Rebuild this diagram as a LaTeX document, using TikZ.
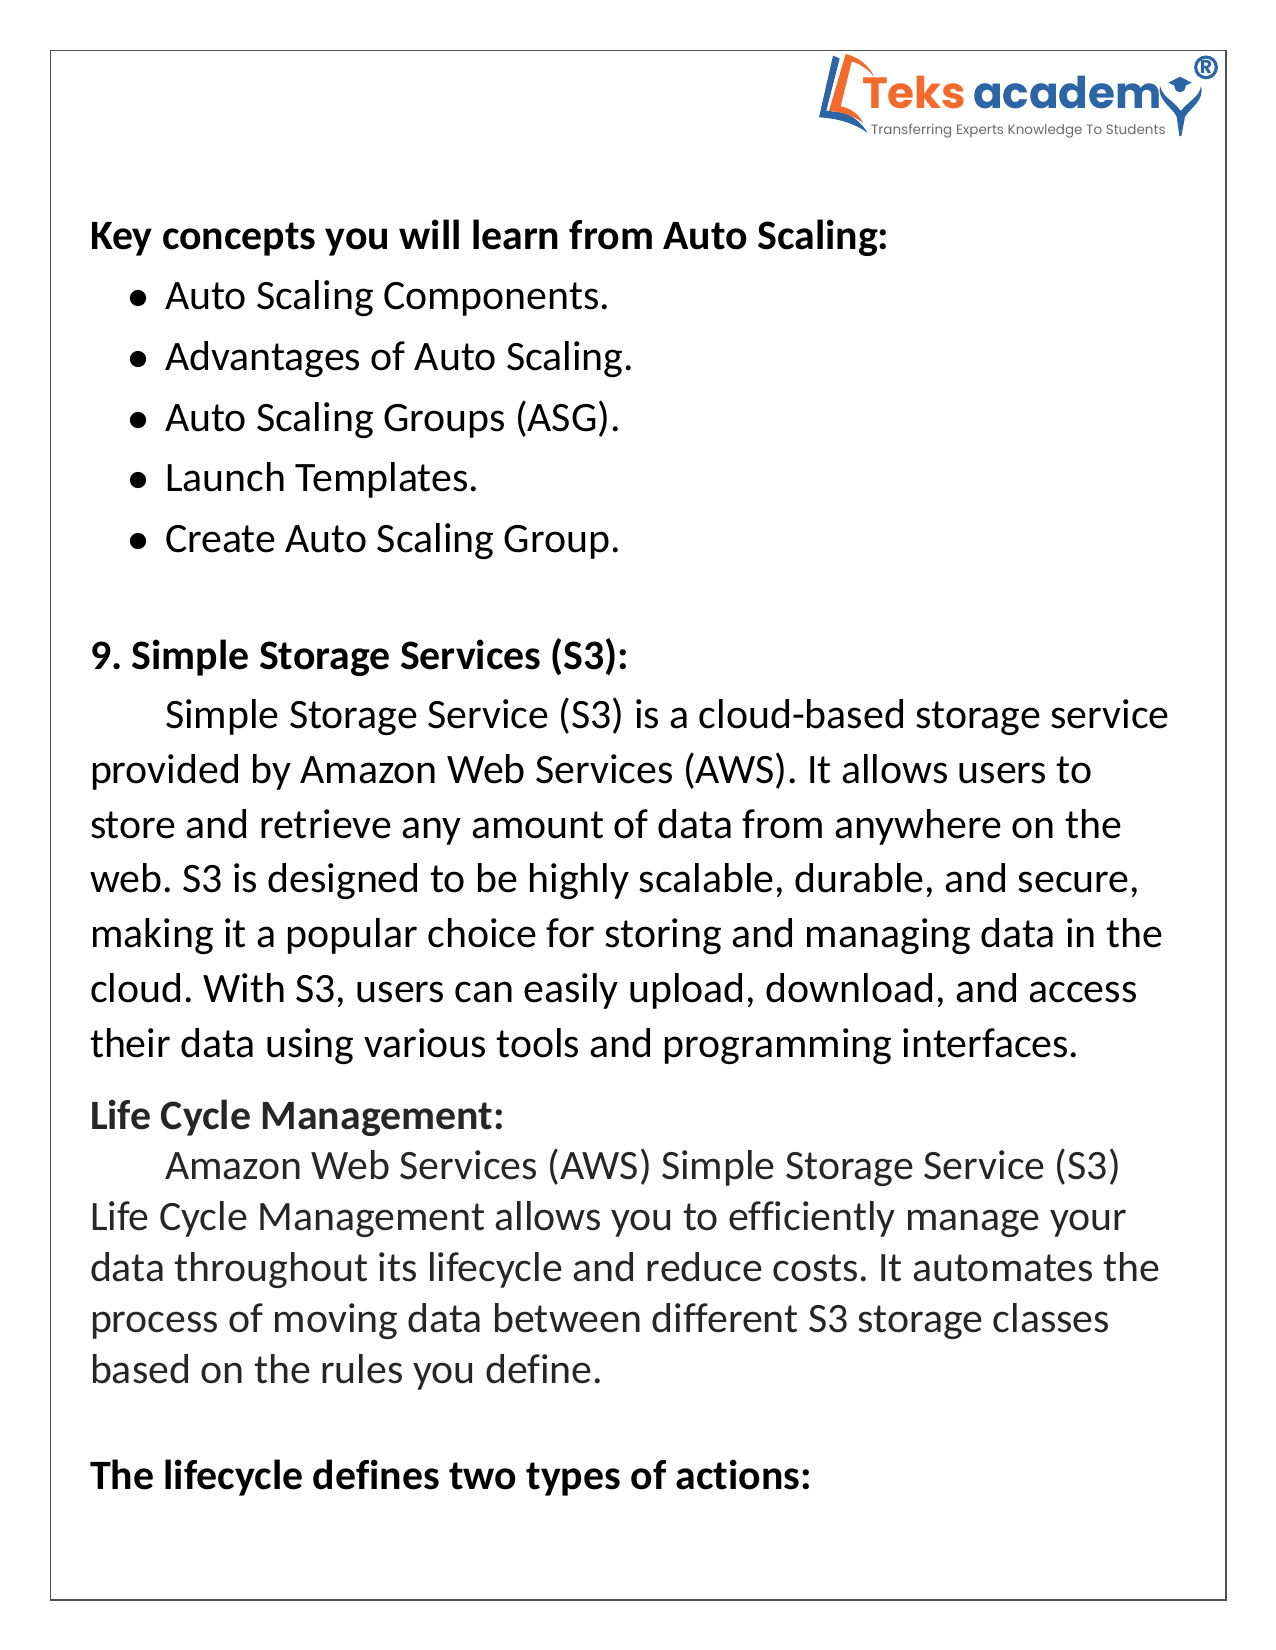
\documentclass[tikz,border=0pt]{standalone}
\usepackage{fontspec}
\setmainfont[Ligatures=NoCommon]{Carlito}
\newfontfamily\logofont{Poppins}
\definecolor{bodygrey}{HTML}{262626}
\definecolor{logoblue}{HTML}{2B65A5}
\definecolor{logoorange}{HTML}{F26B2D}
\definecolor{taggrey}{HTML}{6A6A6A}
\definecolor{frameline}{HTML}{505050}
\tikzset{
  txt/.style={anchor=base west,inner sep=0pt,outer sep=0pt,font=\fontsize{20.08bp}{24bp}\selectfont},
  head/.style={txt,font=\fontsize{20.08bp}{24bp}\selectfont\bfseries},
  greytxt/.style={txt,text=bodygrey},
  bul/.style={circle,fill=black,inner sep=0pt,minimum size=7.8bp},
  logotxt/.style={anchor=base west,inner sep=0pt,outer sep=0pt}
}
\begin{document}
\frenchspacing
\begin{tikzpicture}[x=0.48bp,y=-0.48bp]
\useasboundingbox (0,0) rectangle (1275,1650);
\draw[frameline,line width=0.7pt] (50.5,50.5) rectangle (1226,1600);
% book mark of the logo
\begin{scope}[shift={(809,49)},x=0.16bp,y=-0.16bp]
\fill[logoblue] (72,20) -- (92,28) -- (52,185) -- (95,190) .. controls (130,195) and (160,225) .. (176,252) .. controls (140,225) and (90,208) .. (30,205) -- cycle;
\fill[logoorange] (110,15) .. controls (150,25) and (180,50) .. (195,82) .. controls (175,60) and (150,42) .. (128,38) -- (95,172) .. controls (120,175) and (150,195) .. (162,222) .. controls (135,200) and (100,190) .. (60,185) -- cycle;
\end{scope}
% figure and ring of the logo
\begin{scope}[shift={(1140,50)},x=0.16bp,y=-0.16bp]
\fill[logoblue] (60,108) .. controls (50,150) and (100,175) .. (110,200) -- (118,258) -- (124,258) -- (135,200) .. controls (150,175) and (195,150) .. (183,108) .. controls (178,140) and (150,150) .. (122,183) .. controls (100,150) and (70,145) .. (60,108) -- cycle;
\fill[logoblue] (120,110) circle[radius=17];
\fill[logoblue] (85,98) -- (120,80) -- (155,98) -- (120,115) -- cycle;
\draw[logoblue,line width=1.5bp] (198,52) circle[radius=31];
\end{scope}
\node[logotxt,text=logoorange,font=\logofont\fontsize{21bp}{24bp}\selectfont\bfseries] (lteks) at (862,108) {Teks};
\node[logotxt,text=logoblue,font=\logofont\fontsize{21bp}{24bp}\selectfont\bfseries] (lacad) at (973,108) {academ};
\node[logotxt,text=taggrey,font=\logofont\fontsize{6.5bp}{8bp}\selectfont] (ltag) at (871,134) {Transferring Experts Knowledge To Students};
\node[anchor=center,inner sep=0pt,text=logoblue,font=\logofont\fontsize{9bp}{10bp}\selectfont\bfseries] (lreg) at (1206,67) {R};
% text
\node[head] (t1) at (90,249) {Key concepts you will learn from Auto Scaling:};
\node[bul] (b1) at (138,298) {};
\node[txt] (t2) at (165,309) {Auto Scaling Components.};
\node[bul] (b2) at (138,359) {};
\node[txt] (t3) at (165,370) {Advantages of Auto Scaling.};
\node[bul] (b3) at (138,420) {};
\node[txt] (t4) at (165,431) {Auto Scaling Groups (ASG).};
\node[bul] (b4) at (138,480) {};
\node[txt] (t5) at (165,491) {Launch Templates.};
\node[bul] (b5) at (138,541) {};
\node[txt] (t6) at (165,552) {Create Auto Scaling Group.};
\node[head] (h9) at (90,669) {9. Simple Storage Services (S3):};
\node[txt] (p1) at (165,728) {Simple Storage Service (S3) is a cloud-based storage service};
\node[txt] (p2) at (90,783) {provided by Amazon Web Services (AWS). It allows users to};
\node[txt] (p3) at (90,838) {store and retrieve any amount of data from anywhere on the};
\node[txt] (p4) at (90,892) {web. S3 is designed to be highly scalable, durable, and secure,};
\node[txt] (p5) at (90,947) {making it a popular choice for storing and managing data in the};
\node[txt] (p6) at (90,1002) {cloud. With S3, users can easily upload, download, and access};
\node[txt] (p7) at (90,1057) {their data using various tools and programming interfaces.};
\node[head,text=bodygrey] (h10) at (90,1129) {Life Cycle Management:};
\node[greytxt] (q1) at (165,1179) {Amazon Web Services (AWS) Simple Storage Service (S3)};
\node[greytxt] (q2) at (90,1230) {Life Cycle Management allows you to efficiently manage your};
\node[greytxt] (q3) at (90,1281) {data throughout its lifecycle and reduce costs. It automates the};
\node[greytxt] (q4) at (90,1332) {process of moving data between different S3 storage classes};
\node[greytxt] (q5) at (90,1383) {based on the rules you define.};
\node[head] (h11) at (90,1489) {The lifecycle defines two types of actions:};
\end{tikzpicture}
\end{document}
